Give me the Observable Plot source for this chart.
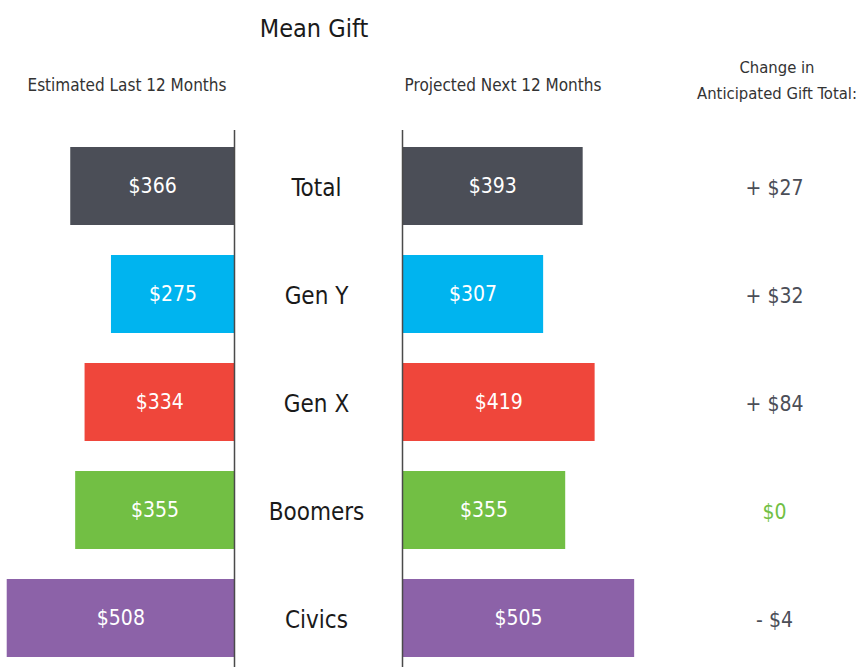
<!DOCTYPE html>
<html>
<head>
<meta charset="utf-8">
<script src="https://cdn.jsdelivr.net/npm/d3@7"></script>
<script src="https://cdn.jsdelivr.net/npm/@observablehq/plot@0.6"></script>
<style>
  html, body { margin: 0; padding: 0; background: #fff; }
  #chart { position: relative; width: 861px; height: 667px; overflow: hidden;
           font-family: "Liberation Sans Narrow", "DejaVu Sans Condensed", "Roboto", sans-serif; }
  #chart > * { position: absolute; }
  .hdr { text-align: center; white-space: nowrap; }
</style>
</head>
<body>
<div id="chart"></div>
<script>
const categories = ["Total", "Gen Y", "Gen X", "Boomers", "Civics"];
const lastYear = [366, 275, 334, 355, 508];
const nextYear = [393, 307, 419, 355, 505];
const changeLabels = ["+ $27", "+ $32", "+ $84", "$0", "- $4"];
const colors = ["#4b4e57", "#00b4ef", "#ef463b", "#72bf44", "#8c62a8"];
const changeColors = ["#4b4e57", "#4b4e57", "#4b4e57", "#72bf44", "#4b4e57"];

const data = categories.map((c, i) => ({
  cat: c, last: lastYear[i], next: nextYear[i],
  change: changeLabels[i], changeColor: changeColors[i]
}));

const FONT = '"Liberation Sans Narrow", "DejaVu Sans Condensed", "Roboto", sans-serif';
const H = 674, TOP = 130;
const yOpts = {domain: categories, axis: null, paddingInner: 0.28, paddingOuter: 0.14};
const colorOpts = {domain: categories, range: colors};

const chart = document.getElementById("chart");

function place(el, left, top) {
  el.style.left = left + "px";
  el.style.top = top + "px";
  chart.appendChild(el);
}

// Left bars (Estimated Last 12 Months)
const left = Plot.plot({
  width: 236, height: H, marginLeft: 0, marginRight: 2, marginTop: TOP, marginBottom: 0,
  style: {fontFamily: FONT, background: "transparent"},
  x: {domain: [0, 523], reverse: true, axis: null},
  y: yOpts, color: colorOpts,
  marks: [
    Plot.barX(data, {x: "last", y: "cat", fill: "cat"}),
    Plot.text(data, {x: d => d.last / 2, y: "cat", text: d => "$" + d.last, fill: "white", fontSize: 21}),
    Plot.ruleX([0], {stroke: "#4a4a4a", strokeWidth: 1.5})
  ]
});
place(left, 0, 0);

// Middle category labels
const mid = Plot.plot({
  width: 164, height: H, marginLeft: 0, marginRight: 0, marginTop: TOP, marginBottom: 0,
  style: {fontFamily: FONT, background: "transparent"},
  y: yOpts,
  marks: [
    Plot.text(data, {y: "cat", text: "cat", frameAnchor: "middle", dy: 2, fill: "#1a1a1a", fontSize: 24})
  ]
});
place(mid, 234, 0);

// Right bars (Projected Next 12 Months)
const right = Plot.plot({
  width: 240, height: H, marginLeft: 2, marginRight: 4, marginTop: TOP, marginBottom: 0,
  style: {fontFamily: FONT, background: "transparent"},
  x: {domain: [0, 509], axis: null},
  y: yOpts, color: colorOpts,
  marks: [
    Plot.barX(data, {x: "next", y: "cat", fill: "cat"}),
    Plot.text(data, {x: d => d.next / 2, y: "cat", text: d => "$" + d.next, fill: "white", fontSize: 21}),
    Plot.ruleX([0], {stroke: "#4a4a4a", strokeWidth: 1.5})
  ]
});
place(right, 400, 0);

// Change column
const chg = Plot.plot({
  width: 170, height: H, marginLeft: 0, marginRight: 0, marginTop: TOP, marginBottom: 0,
  style: {fontFamily: FONT, background: "transparent"},
  y: yOpts,
  marks: [
    Plot.text(data, {y: "cat", text: "change", frameAnchor: "middle", dy: 2, fill: "changeColor", fontSize: 21})
  ]
});
place(chg, 689, 0);

// Headers
function header(html, cx, top, size, color, lh) {
  const d = document.createElement("div");
  d.className = "hdr";
  d.innerHTML = html;
  d.style.fontSize = size + "px";
  d.style.lineHeight = lh + "px";
  d.style.color = color;
  d.style.width = "300px";
  place(d, cx - 150, top);
}
header("Mean Gift", 314, 14, 25, "#1a1a1a", 30);
header("Estimated Last 12 Months", 127, 73, 17, "#333", 24);
header("Projected Next 12 Months", 503, 73, 17, "#333", 24);
header("Change in<br>Anticipated Gift Total:", 777, 55, 16.5, "#333", 26);
</script>
</body>
</html>
